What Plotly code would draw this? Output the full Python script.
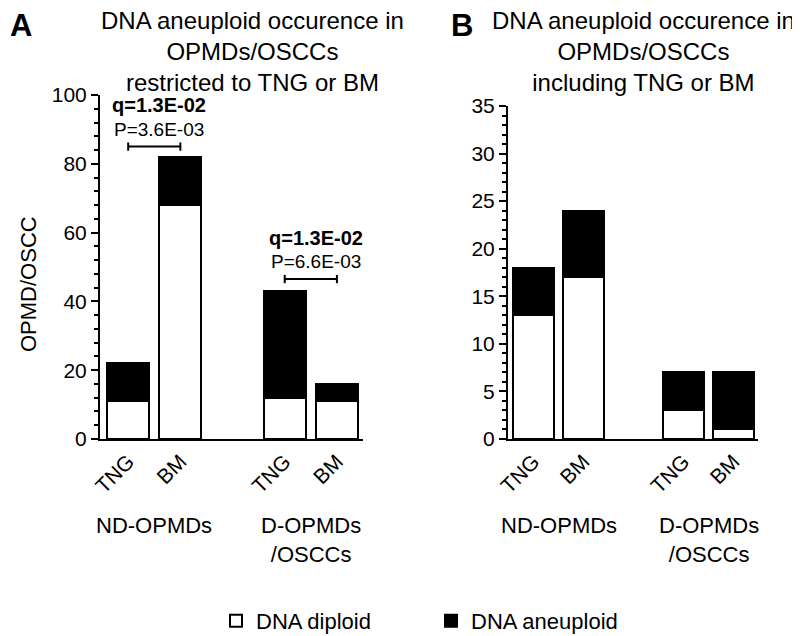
import plotly.graph_objects as go

W, H = 800, 636
OFF = 8  # page body margin of the browser

# ---------------- data ----------------
groups = ["ND-OPMDs", "D-OPMDs<br>/OSCCs"]
sites = ["TNG", "BM"]

a_diploid = [11, 68, 12, 11]
a_aneuploid = [11, 14, 31, 5]
b_diploid = [13, 17, 3, 1]
b_aneuploid = [5, 7, 4, 6]

a_tests = [("q=1.3E-02", "P=3.6E-03"), ("q=1.3E-02", "P=6.6E-03")]

title_a = "DNA aneuploid occurence in<br>OPMDs/OSCCs<br>restricted to TNG or BM"
title_b = "DNA aneuploid occurence in<br>OPMDs/OSCCs<br>including TNG or BM"
y_title = "OPMD/OSCC"
legend_names = ["DNA diploid", "DNA aneuploid"]

# x positions: two bars per group, one empty slot between groups
positions = [gi * 3 + si for gi in range(len(groups)) for si in range(len(sites))]
ticktext = [s for _ in groups for s in sites]

FONT = "Arial, Liberation Sans, Helvetica, sans-serif"


def px(x):
    return (x - OFF) / W


def py(y):
    return 1 - (y - OFF) / H


fig = go.Figure()

line = dict(color="black", width=2)
for (dip, aneu, xa, ya, show, wd) in [
    (a_diploid, a_aneuploid, "x", "y", True, 0.80),
    (b_diploid, b_aneuploid, "x2", "y2", False, 0.82),
]:
    fig.add_trace(go.Bar(x=positions, y=dip, name=legend_names[0], marker=dict(color="white", line=line),
                         width=wd, xaxis=xa, yaxis=ya, showlegend=show, legendgroup="d"))
    fig.add_trace(go.Bar(x=positions, y=aneu, name=legend_names[1], marker=dict(color="black", line=line),
                         width=wd, xaxis=xa, yaxis=ya, showlegend=show, legendgroup="a"))

xcommon = dict(tickmode="array", tickvals=positions, ticktext=ticktext, tickangle=-45,
               showline=True, linecolor="black", linewidth=2, ticks="", showgrid=False,
               zeroline=False, tickfont=dict(size=21, color="black"), fixedrange=True,
               automargin=False)
ycommon = dict(showline=True, linecolor="black", linewidth=2, ticks="outside", ticklen=7,
               tickwidth=2, tickcolor="black", showgrid=False, zeroline=False,
               tickfont=dict(size=21, color="black"), fixedrange=True, automargin=False)

fig.update_layout(
    template="none",
    width=W, height=H,
    margin=dict(l=0, r=0, t=0, b=0, pad=0, autoexpand=False),
    paper_bgcolor="white", plot_bgcolor="white",
    barmode="stack",
    font=dict(family=FONT, color="black"),
    xaxis=dict(domain=[px(100), px(363)], range=[-0.54, 4.5], anchor="y", **xcommon),
    yaxis=dict(domain=[py(439), py(95)], range=[0, 100], dtick=20, anchor="x",
               minor=dict(dtick=4, ticks="outside", ticklen=4, tickwidth=1.5, tickcolor="black"),
               **ycommon),
    xaxis2=dict(domain=[px(508), px(758)], range=[-0.51, 4.49], anchor="y2", **xcommon),
    yaxis2=dict(domain=[py(439), py(106)], range=[0, 35], dtick=5, anchor="x2",
                minor=dict(dtick=1, ticks="outside", ticklen=4, tickwidth=1.5, tickcolor="black"),
                **ycommon),
    legend=dict(orientation="h", x=px(216), xanchor="left", y=py(621), yanchor="middle",
                font=dict(size=22, color="black"), entrywidth=170, entrywidthmode="pixels",
                traceorder="normal", bgcolor="rgba(0,0,0,0)"),
    showlegend=True,
)

ann = []
# panel letters
ann.append(dict(text="<b>A</b>", x=px(21), y=py(25), xref="paper", yref="paper",
                xanchor="center", yanchor="middle", showarrow=False, font=dict(size=31)))
ann.append(dict(text="<b>B</b>", x=px(462), y=py(25), xref="paper", yref="paper",
                xanchor="center", yanchor="middle", showarrow=False, font=dict(size=31)))
# titles
ann.append(dict(text=title_a, x=px(252), y=py(51), xref="paper", yref="paper",
                xanchor="center", yanchor="middle", showarrow=False, font=dict(size=24)))
ann.append(dict(text=title_b, x=px(643), y=py(51), xref="paper", yref="paper",
                xanchor="center", yanchor="middle", showarrow=False, font=dict(size=24)))
# y axis title
ann.append(dict(text=y_title, x=px(28), y=py(284), xref="paper", yref="paper", textangle=-90,
                xanchor="center", yanchor="middle", showarrow=False, font=dict(size=22)))
# group labels
for xa in ("x", "x2"):
    for gi, g in enumerate(groups):
        gpos = positions[gi * len(sites):(gi + 1) * len(sites)]
        ann.append(dict(text=g, x=sum(gpos) / len(gpos), y=py(511), xref=xa, yref="paper",
                        xanchor="center", yanchor="top", showarrow=False,
                        font=dict(size=22), align="center"))

# significance annotations for panel A
sig_levels = [85, 46.5]
for ti, (q, p) in enumerate(a_tests):
    x0 = positions[ti * 2]
    x1 = positions[ti * 2 + 1]
    yb = sig_levels[ti]
    mid = (x0 + x1) / 2 + 0.1
    ann.append(dict(text="<b>" + q + "</b>", x=mid, y=yb + 12, xref="x", yref="y",
                    xanchor="center", yanchor="middle", showarrow=False, font=dict(size=20)))
    ann.append(dict(text=p, x=mid, y=yb + 5, xref="x", yref="y",
                    xanchor="center", yanchor="middle", showarrow=False, font=dict(size=19)))
    fig.add_shape(type="line", x0=x0, x1=x1, y0=yb, y1=yb, xref="x", yref="y",
                  line=dict(color="black", width=2))
    for xx in (x0, x1):
        fig.add_shape(type="line", x0=xx, x1=xx, y0=yb - 1.2, y1=yb + 1.2, xref="x", yref="y",
                      line=dict(color="black", width=2))

fig.update_layout(annotations=ann)
fig.write_html("out.html")
